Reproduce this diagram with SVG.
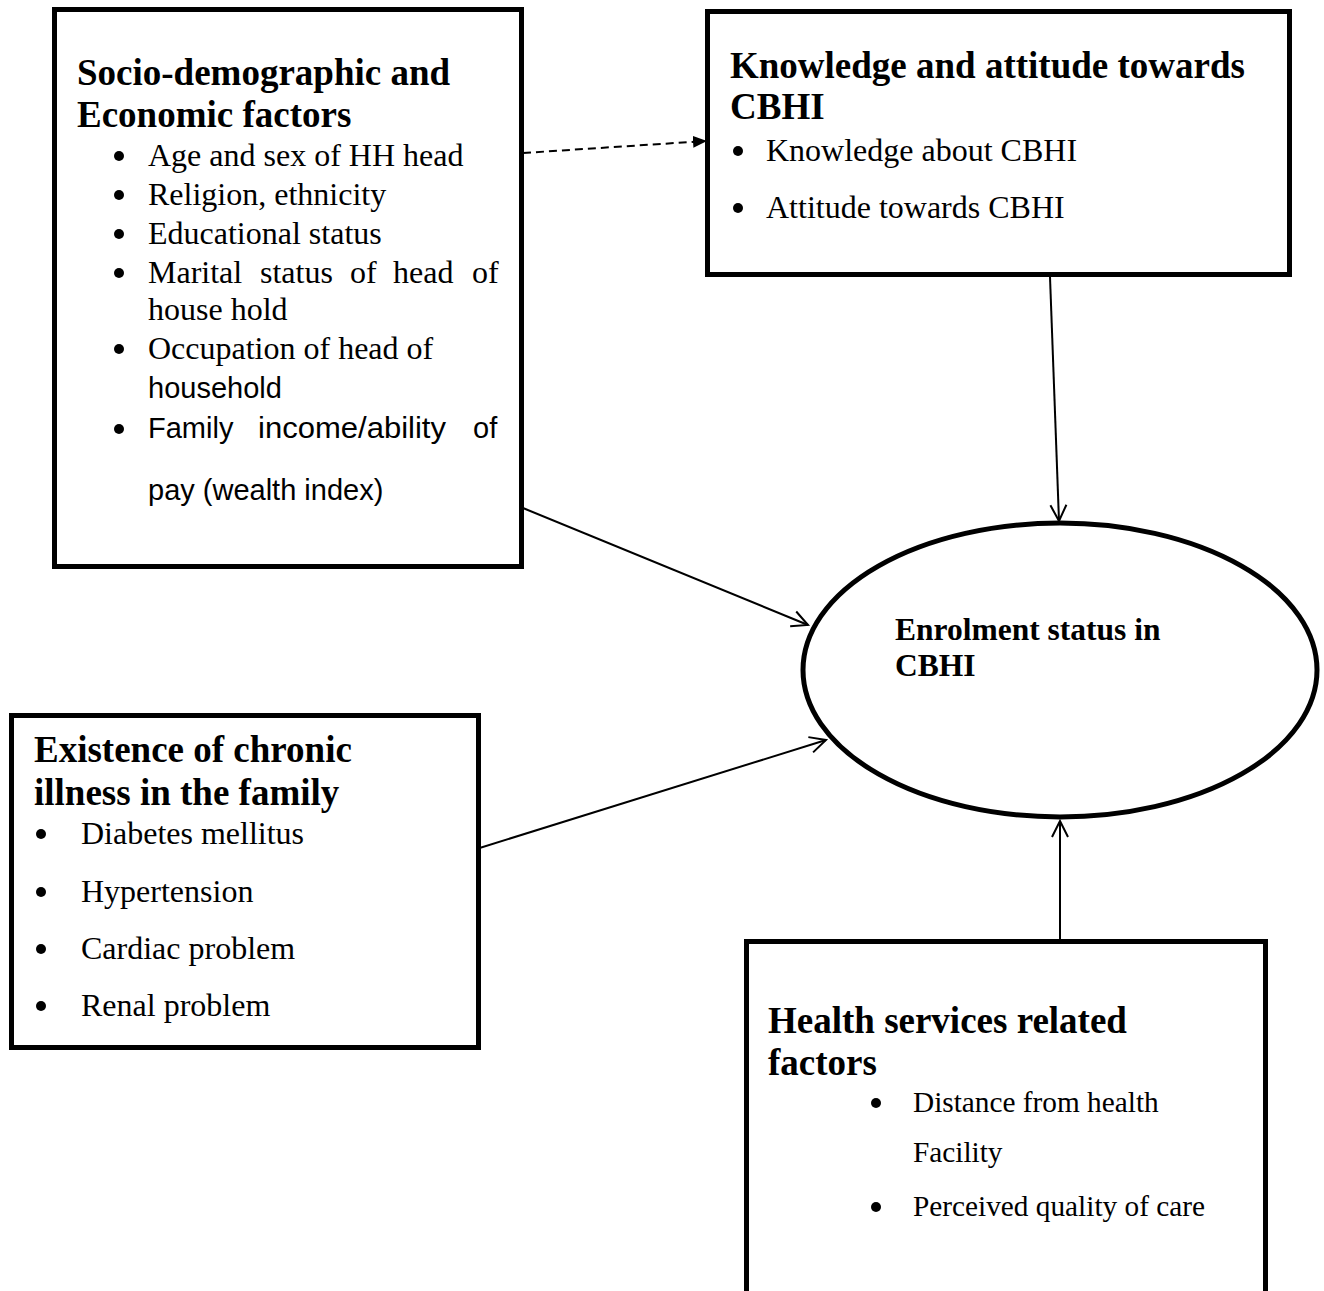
<svg xmlns="http://www.w3.org/2000/svg" width="1324" height="1291" viewBox="0 0 1324 1291">
<defs>
<style>
.box{fill:#fff;stroke:#000;stroke-width:5}
.ttl{font-family:"Liberation Serif","Times New Roman",serif;font-weight:bold;font-size:37px;fill:#000}
.item{font-family:"Liberation Serif","Times New Roman",serif;font-size:32px;fill:#000}
.small{font-size:29.3px}
.sans{font-family:"Liberation Sans",Arial,sans-serif;font-size:29px;fill:#000}
.ell{font-family:"Liberation Serif","Times New Roman",serif;font-weight:bold;font-size:31.5px;fill:#000}
.conn{stroke:#000;stroke-width:2;fill:none}
.dot{fill:#000}
</style>
<marker id="open" viewBox="0 0 20 20" refX="18" refY="10" markerWidth="20" markerHeight="20" markerUnits="userSpaceOnUse" orient="auto">
<path d="M2,2 L18,10 L2,18" fill="none" stroke="#000" stroke-width="2"/>
</marker>
<marker id="solid" viewBox="0 0 14 14" refX="13" refY="7" markerWidth="14" markerHeight="14" markerUnits="userSpaceOnUse" orient="auto">
<path d="M0,1 L14,7 L0,13 Z" fill="#000"/>
</marker>
</defs>
<rect width="1324" height="1291" fill="#fff"/>

<g id="connectors">
<line class="conn" x1="523" y1="153" x2="706" y2="141" stroke-dasharray="8,5" marker-end="url(#solid)"/>
<line class="conn" x1="1050" y1="277" x2="1059" y2="521" marker-end="url(#open)"/>
<line class="conn" x1="523" y1="508" x2="808" y2="625" marker-end="url(#open)"/>
<line class="conn" x1="470" y1="851" x2="826" y2="740" marker-end="url(#open)"/>
<line class="conn" x1="1060" y1="941" x2="1060" y2="821" marker-end="url(#open)"/>
</g>

<g id="socio">
<rect class="box" x="54.5" y="9.5" width="467" height="557"/>
<text class="ttl" x="77" y="85">Socio-demographic and</text>
<text class="ttl" x="77" y="127">Economic factors</text>
<circle class="dot" cx="119" cy="156" r="5"/>
<text class="item" x="148" y="166">Age and sex of HH head</text>
<circle class="dot" cx="119" cy="195" r="5"/>
<text class="item" x="148" y="205">Religion, ethnicity</text>
<circle class="dot" cx="119" cy="234" r="5"/>
<text class="item" x="148" y="244">Educational status</text>
<circle class="dot" cx="119" cy="273" r="5"/>
<text class="item" y="283"><tspan x="148">Marital</tspan><tspan x="260">status</tspan><tspan x="350">of</tspan><tspan x="393">head</tspan><tspan x="472">of</tspan></text>
<text class="item" x="148" y="320">house hold</text>
<circle class="dot" cx="119" cy="349" r="5"/>
<text class="item" x="148" y="359">Occupation of head of</text>
<text class="sans" x="148" y="398">household</text>
<circle class="dot" cx="119" cy="429" r="5"/>
<text class="sans" y="438"><tspan x="148">Family</tspan><tspan x="258" textLength="188" lengthAdjust="spacingAndGlyphs">income/ability</tspan><tspan x="473">of</tspan></text>
<text class="sans" x="148" y="500">pay (wealth index)</text>
</g>

<g id="knowledge">
<rect class="box" x="707.5" y="11.5" width="582" height="263"/>
<text class="ttl" x="730" y="78">Knowledge and attitude towards</text>
<text class="ttl" x="730" y="119">CBHI</text>
<circle class="dot" cx="738" cy="151" r="5"/>
<text class="item" x="766" y="161">Knowledge about CBHI</text>
<circle class="dot" cx="738" cy="208" r="5"/>
<text class="item" x="766" y="218">Attitude towards CBHI</text>
</g>

<g id="chronic">
<rect class="box" x="11.5" y="715.5" width="467" height="332"/>
<text class="ttl" x="34" y="762">Existence of chronic</text>
<text class="ttl" x="34" y="805">illness in the family</text>
<circle class="dot" cx="41" cy="834" r="5"/>
<text class="item" x="81" y="844">Diabetes mellitus</text>
<circle class="dot" cx="41" cy="892" r="5"/>
<text class="item" x="81" y="902">Hypertension</text>
<circle class="dot" cx="41" cy="949" r="5"/>
<text class="item" x="81" y="959">Cardiac problem</text>
<circle class="dot" cx="41" cy="1006" r="5"/>
<text class="item" x="81" y="1016">Renal problem</text>
</g>

<g id="health">
<rect class="box" x="746.5" y="941.5" width="519" height="380"/>
<text class="ttl" x="768" y="1033">Health services related</text>
<text class="ttl" x="768" y="1075">factors</text>
<circle class="dot" cx="876" cy="1103" r="5"/>
<text class="item small" x="913" y="1112">Distance from health</text>
<text class="item small" x="913" y="1162">Facility</text>
<circle class="dot" cx="876" cy="1207" r="5"/>
<text class="item small" x="913" y="1216">Perceived quality of care</text>
</g>

<g id="enrolment">
<ellipse class="box" cx="1060" cy="670" rx="257" ry="147"/>
<text class="ell" x="895" y="640">Enrolment status in</text>
<text class="ell" x="895" y="676">CBHI</text>
</g>
</svg>
